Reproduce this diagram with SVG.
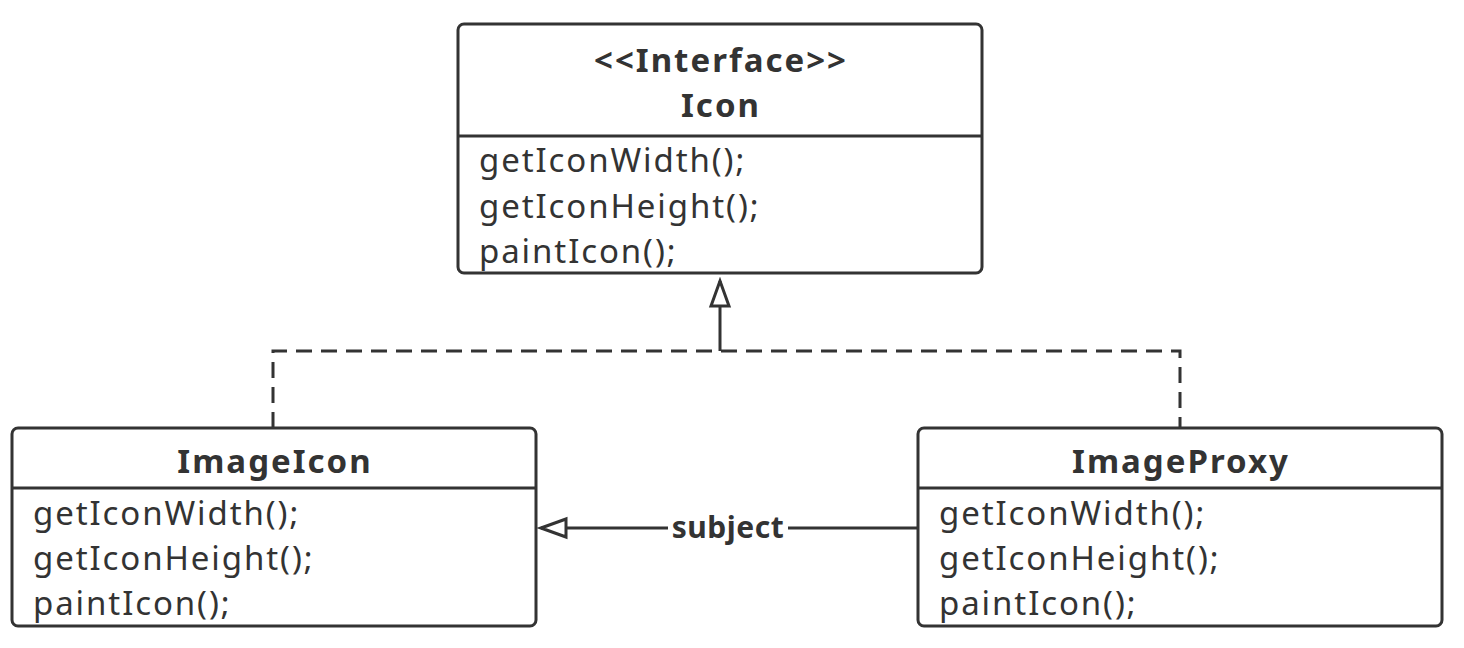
<svg xmlns="http://www.w3.org/2000/svg" width="1464" height="648" viewBox="0 0 1464 648">
<style>
.box{fill:#fff;stroke:#333;stroke-width:3}
.div{stroke:#333;stroke-width:3}
.t{font-family:"Noto Sans","Open Sans",sans-serif;font-size:33px;fill:#333;letter-spacing:1.9px}
.b{font-weight:bold;text-anchor:middle;letter-spacing:2px}
.ln{fill:none;stroke:#333;stroke-width:3}
.dash{stroke-dasharray:16 9}
</style>
<defs>
<marker id="tri" markerWidth="32" markerHeight="24" refX="28" refY="12" orient="auto" markerUnits="userSpaceOnUse">
<path d="M28,12 L3,3 L3,21 Z" fill="#fff" stroke="#333" stroke-width="3"/>
</marker>
</defs>
<g id="connectors">
<path class="ln dash" d="M273,428 V351 H1180 V428"/>
<path class="ln" d="M720,351 V281" marker-end="url(#tri)"/>
<path class="ln" d="M918,528 H541" marker-end="url(#tri)"/>
<rect x="668" y="510" width="120" height="36" fill="#fff"/>
<text class="t b" x="728" y="538" style="font-size:30px;letter-spacing:0.5px">subject</text>
</g>
<g id="icon">
<rect class="box" x="458" y="24" width="524" height="249" rx="6"/>
<line class="div" x1="458" y1="136" x2="982" y2="136"/>
<text class="t b" x="721" y="72">&lt;&lt;Interface&gt;&gt;</text>
<text class="t b" x="721" y="117">Icon</text>
<text class="t" x="479" y="172">getIconWidth();</text>
<text class="t" x="479" y="218">getIconHeight();</text>
<text class="t" x="479" y="263">paintIcon();</text>
</g>
<g id="imageicon">
<rect class="box" x="12" y="428" width="524" height="198" rx="6"/>
<line class="div" x1="12" y1="488" x2="536" y2="488"/>
<text class="t b" x="275" y="473">ImageIcon</text>
<text class="t" x="33" y="525">getIconWidth();</text>
<text class="t" x="33" y="570">getIconHeight();</text>
<text class="t" x="33" y="615">paintIcon();</text>
</g>
<g id="imageproxy">
<rect class="box" x="918" y="428" width="524" height="198" rx="6"/>
<line class="div" x1="918" y1="488" x2="1442" y2="488"/>
<text class="t b" x="1181" y="473">ImageProxy</text>
<text class="t" x="939" y="525">getIconWidth();</text>
<text class="t" x="939" y="570">getIconHeight();</text>
<text class="t" x="939" y="615">paintIcon();</text>
</g>
</svg>
